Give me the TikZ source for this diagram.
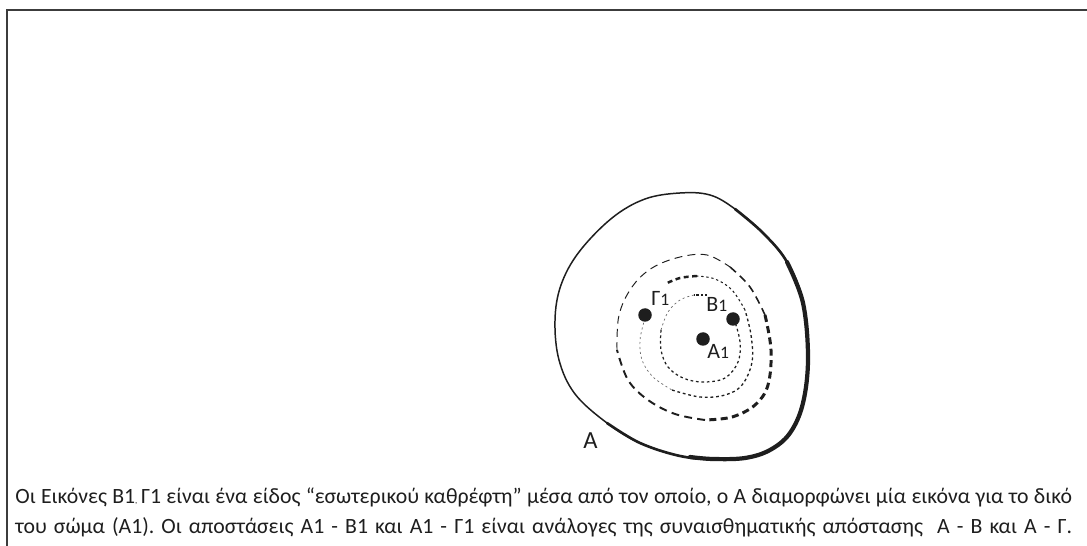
\documentclass[tikz,border=0pt]{standalone}
\usepackage{fontspec}
\setmainfont{Carlito}
\frenchspacing
\definecolor{mmInk}{HTML}{1E1E1E}
\definecolor{mmFrame}{HTML}{3C3C3C}
\definecolor{mmFaint}{HTML}{6A6A6A}
\usepackage{tikz}
\usetikzlibrary{positioning}

\tikzset{
  frame/.style={mmFrame, line width=1.2pt},
  rim/.style={mmInk, line cap=round, line join=round},
  ring/.style={mmInk, line cap=butt},
  spot/.style={circle, fill=mmInk, inner sep=0pt, minimum size=0.27cm},
  tag/.style={inner sep=0pt, text=mmInk, font=\fontsize{12.5}{14}\selectfont},
  caption/.style={anchor=base west, inner sep=0pt, text=mmInk, font=\fontsize{12.4}{14}\selectfont}
}
\newcommand{\capline}[1]{\makebox[21.14cm][s]{#1}}

\begin{document}
\begin{tikzpicture}[x=0.02cm, y=-0.02cm]
  \useasboundingbox (0,0) rectangle (1087,546);
  \draw[frame] (7,546) -- (7,10) -- (1087,10);

  % outer body A, thin on the left, heavy on the right
  \draw[rim, line width=0.85pt] plot[smooth cycle, tension=0.6] coordinates {
    (680,193) (710,195) (735,209) (763,233) (787,262) (803,303) (808,358)
    (803,403) (790,433) (770,450) (745,458) (713,459) (680,456) (640,443)
    (607,423) (575,394) (559,360) (555,320) (561,285) (579,252) (612,218) (645,199)};
  \draw[rim, line width=1.5pt] plot[smooth, tension=0.6] coordinates {
    (735,209) (763,233) (787,262) (803,303) (808,358) (803,403) (790,433)
    (770,450) (745,458) (713,459) (680,456) (640,443) (607,423)};
  \draw[rim, line width=2.4pt] plot[smooth, tension=0.6] coordinates {
    (787,262) (803,303) (808,358) (803,403) (790,433) (770,450) (745,458) (713,459) (690,457)};

  % first ring (long dashes)
  \draw[ring, line width=0.55pt, dash pattern=on 4.5pt off 3pt] plot[smooth, tension=0.6] coordinates {
    (617,350) (619,315) (632,287) (652,268) (680,257) (707,255) (730,267)};
  \draw[ring, line width=0.9pt, dash pattern=on 4.5pt off 3pt] plot[smooth, tension=0.6] coordinates {
    (730,267) (750,287) (765,315)};
  \draw[ring, line width=1.7pt, dash pattern=on 4pt off 2.5pt] plot[smooth, tension=0.6] coordinates {
    (765,315) (771,350) (768,385) (755,405) (732,417) (705,420)};
  \draw[ring, line width=1.1pt, dash pattern=on 4.5pt off 3pt] plot[smooth, tension=0.6] coordinates {
    (705,420) (675,414) (648,400) (628,380) (617,350)};

  % second ring, starting at Gamma1
  \draw[ring, mmFaint, line width=0.4pt, dash pattern=on 1.2pt off 1.6pt] plot[smooth, tension=0.6] coordinates {
    (645,318) (640,340) (642,360) (653,377) (672,390)};
  \draw[ring, line width=0.75pt, dash pattern=on 1.6pt off 1.6pt] plot[smooth, tension=0.6] coordinates {
    (672,390) (700,397) (725,395) (742,385) (752,362) (751,335) (745,310)};
  \draw[ring, line width=0.6pt, dash pattern=on 1.3pt off 1.6pt] plot[smooth, tension=0.6] coordinates {
    (745,310) (732,290) (715,279) (697,276)};
  \draw[ring, line width=1.4pt, dash pattern=on 2.8pt off 2pt] plot[smooth, tension=0.6] coordinates {
    (697,276) (680,278) (665,284)};

  % inner ring, ending at B1
  \draw[ring, line width=1.2pt, dash pattern=on 1.2pt off 1.2pt] (707,295) -- (694,295);
  \draw[ring, mmFaint, line width=0.4pt, dash pattern=on 1.2pt off 1.6pt] plot[smooth, tension=0.6] coordinates {
    (694,295) (680,300) (668,312) (661,330)};
  \draw[ring, line width=0.7pt, dash pattern=on 1.5pt off 1.6pt] plot[smooth, tension=0.6] coordinates {
    (661,330) (661,350) (668,367) (683,378) (703,382) (725,378) (738,362) (740,342) (735,322)};

  % images
  \node[spot] (g1) at (645,315) {};
  \node[spot] (b1) at (733,319) {};
  \node[spot] (a1) at (703,339) {};
  \node[tag, anchor=base west] (lg) at (651,306) {Γ{\fontsize{10}{12}\selectfont 1}};
  \node[tag, anchor=base west] (lb) at (706,312) {Β{\fontsize{10}{12}\selectfont 1}};
  \node[tag, anchor=base west] (la) at (707,359) {Α{\fontsize{10}{12}\selectfont 1}};
  \node[tag, anchor=base west, font=\fontsize{14}{16}\selectfont] (lA) at (583,448) {Α};

  \node[caption] (cap1) at (15,503) {\capline{Οι Εικόνες Β1{\tiny,}\,Γ1 είναι ένα είδος “εσωτερικού καθρέφτη” μέσα από τον οποίο, ο Α διαμορφώνει μία εικόνα για το δικό}};
  \node[caption] (cap2) at (15,533) {\capline{του σώμα (Α1). Οι αποστάσεις Α1 - Β1 και Α1 - Γ1 είναι ανάλογες της συναισθηματικής απόστασης~ Α - Β και Α - Γ.}};
\end{tikzpicture}
\end{document}
